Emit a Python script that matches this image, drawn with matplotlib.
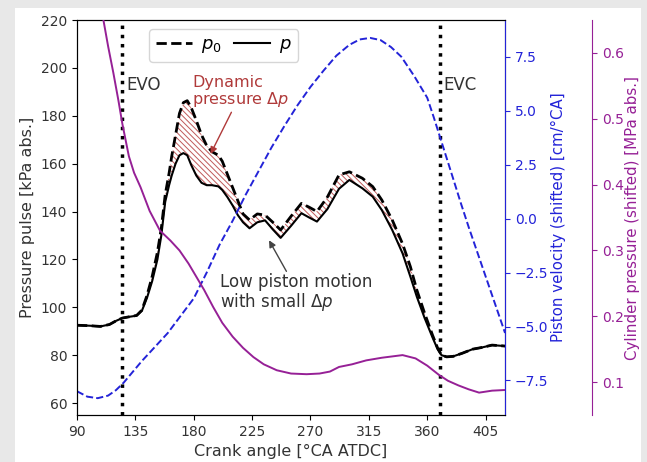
import matplotlib.pyplot as plt
from matplotlib.patches import Rectangle

# crank angle grid shared by the two pressure traces [deg CA ATDC]
theta = [90, 100, 108, 115, 120, 125, 130, 136, 140, 144, 148, 152, 155, 158,
         161, 163, 166, 169, 172, 175, 178, 182, 186, 190, 194, 199, 202, 206,
         210, 214, 218, 223, 229, 235, 241, 247, 255, 263, 269, 275, 283, 292,
         300, 310, 318, 325, 333, 341, 347, 352, 358, 364, 368, 371, 375, 380,
         387, 395, 402, 410, 420]
p = [92.5, 92.3, 92.0, 92.8, 94.3, 95.5, 96.0, 96.5, 98.5, 104, 111, 120, 130, 144,
     151, 155, 160, 163.5, 164.4, 163.5, 159.5, 155, 152, 151, 151, 150.5, 149, 146,
     142.5, 138.5, 135.5, 133, 135.5, 136.3, 132.5, 129, 134, 139.3, 137.5, 135.8, 141, 149.5,
     153.2, 149.7, 146.2, 140.6, 132.3, 122.5, 112.8, 104.4, 95.5, 87.5, 82.5, 80, 79.3, 79.5,
     80.8, 82.5, 83.2, 84.2, 83.8]
p0 = [92.5, 92.3, 92.0, 92.8, 94.3, 95.5, 96.0, 96.6, 98.8, 105, 113, 123, 133, 147,
      156, 163, 172, 181, 185.5, 186.3, 183.5, 178, 172, 167.5, 165, 163.5, 161, 155.5,
      150, 144.5, 139, 136.5, 139, 138.5, 135.5, 132.3, 138, 143.4, 141.8, 140, 146, 155.3,
      156.6, 153.9, 150.4, 144.8, 136.5, 126.5, 117, 107.2, 97.5, 88.5, 83, 80, 79.3, 79.5,
      80.8, 82.5, 83.2, 84.2, 83.8]

# piston velocity (shifted) [cm/deg CA]
theta_v = [90, 98, 106, 114, 120, 126, 133, 140, 150, 160, 170, 180, 190, 200, 210,
           220, 230, 240, 250, 260, 270, 280, 290, 300, 308, 316, 324, 332, 340, 350,
           360, 365, 370, 375, 380, 386, 392, 398, 404, 410, 416, 420]
v_piston = [-8.0, -8.25, -8.32, -8.2, -7.95, -7.6, -7.1, -6.6, -5.95, -5.3, -4.5, -3.7,
            -2.5, -1.2, -0.1, 1.1, 2.2, 3.3, 4.3, 5.25, 6.1, 6.85, 7.55, 8.05, 8.3, 8.37,
            8.27, 7.95, 7.5, 6.6, 5.6, 4.7, 3.75, 2.8, 1.85, 0.7, -0.4, -1.45, -2.5, -3.55,
            -4.6, -5.3]

# cylinder pressure (shifted) [MPa abs.]
theta_c = [109, 111, 114, 118, 122, 125, 130, 134, 139, 146, 154, 162, 169, 176, 182,
           188, 195, 202, 210, 218, 226, 234, 244, 255, 267, 277, 285, 292, 302, 313,
           325, 341, 351, 360, 369, 376, 384, 392, 400, 410, 420]
p_cyl = [0.665, 0.643, 0.61, 0.57, 0.527, 0.492, 0.443, 0.418, 0.396, 0.36, 0.33, 0.315,
         0.30, 0.28, 0.26, 0.24, 0.214, 0.19, 0.169, 0.152, 0.138, 0.127, 0.118, 0.113,
         0.112, 0.113, 0.116, 0.123, 0.127, 0.133, 0.137, 0.141, 0.136, 0.125, 0.111,
         0.102, 0.095, 0.089, 0.084, 0.087, 0.088]

evo, evc = 125, 370

txt = '#333333'
blue = '#2323d8'
mag = '#962096'
brown = '#b03a3a'
plt.rcParams['font.family'] = 'DejaVu Sans'
plt.rcParams['hatch.linewidth'] = 0.7
plt.rcParams['hatch.color'] = '#c05a5a'

fig = plt.figure(figsize=(6.47, 4.62), dpi=100)
fig.patch.set_facecolor('#e8e8e8')
fig.add_artist(Rectangle((15 / 647, 0), 626 / 647, 454 / 462, transform=fig.transFigure,
                         facecolor='white', edgecolor='none', zorder=-10))

ax = fig.add_axes([0.119, 0.1017, 0.6616, 0.855])

ax.fill_between(theta, p, p0, where=[b > a for a, b in zip(p, p0)], interpolate=True,
                facecolor='none', edgecolor='#c05a5a', hatch='\\' * 6, linewidth=0)
ax.plot(theta, p0, c='k', ls='--', lw=2, label='$p_0$', zorder=3)
ax.plot(theta, p, c='k', lw=1.5, label='$p$', zorder=4)
ax.axvline(evo, c='k', ls=':', lw=2.5)
ax.axvline(evc, c='k', ls=':', lw=2.5)

ax.text(evo + 3, 193, 'EVO', fontsize=12, color=txt, va='center')
ax.text(evc + 2.5, 193, 'EVC', fontsize=12, color=txt, va='center')
ax.text(179, 190, 'Dynamic\npressure $\\Delta p$', fontsize=11.5, color=brown,
        va='center', linespacing=1.0)
ax.annotate('', xy=(192, 163), xytext=(210, 182.5),
            arrowprops=dict(arrowstyle='-|>', color=brown, lw=1, mutation_scale=10))
ax.text(200, 106, 'Low piston motion\nwith small $\\Delta p$', fontsize=12, color=txt,
        va='center', linespacing=1.0)
ax.annotate('', xy=(237, 129), xytext=(252.5, 114),
            arrowprops=dict(arrowstyle='-|>', color='#444444', lw=1, mutation_scale=10))

ax.set_xlim(90, 420)
ax.set_ylim(55, 220)
ax.set_xticks(range(90, 420, 45))
ax.set_yticks(range(60, 221, 20))
ax.tick_params(labelsize=10, labelcolor=txt)
ax.set_xlabel('Crank angle [°CA ATDC]', fontsize=11.5, color=txt)
ax.set_ylabel('Pressure pulse [kPa abs.]', fontsize=11.5, color=txt)
ax.legend(ncol=2, loc='upper center', bbox_to_anchor=(0.343, 1.0), fontsize=13,
          handlelength=2.0, columnspacing=0.7, handletextpad=0.5, borderpad=0.35)

ax2 = ax.twinx()
ax2.plot(theta_v, v_piston, c=blue, ls='--', lw=1.4)
ax2.set_ylim(-9.1, 9.2)
ax2.set_yticks([-7.5, -5.0, -2.5, 0.0, 2.5, 5.0, 7.5])
ax2.tick_params(axis='y', colors=blue, labelsize=10)
ax2.spines['right'].set_color(blue)
ax2.set_ylabel('Piston velocity (shifted) [cm/°CA]', color=blue, fontsize=10.8, labelpad=2)

ax3 = ax.twinx()
ax3.plot(theta_c, p_cyl, c=mag, lw=1.4)
ax3.set_ylim(0.05, 0.65)
ax3.set_yticks([0.1, 0.2, 0.3, 0.4, 0.5, 0.6])
ax3.spines['right'].set_position(('axes', 1.203))
ax3.spines['right'].set_color(mag)
ax3.tick_params(axis='y', colors=mag, labelsize=10)
ax3.set_ylabel('Cylinder pressure (shifted) [MPa abs.]', color=mag, fontsize=10.8, labelpad=1)
for s in ['top', 'left', 'bottom']:
    ax3.spines[s].set_visible(False)

fig.savefig('out.png', dpi=100)
